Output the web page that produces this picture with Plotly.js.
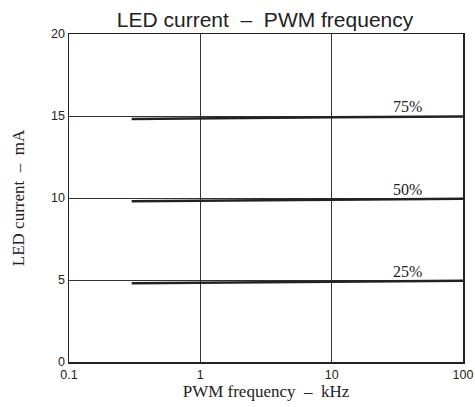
<!DOCTYPE html>
<html><head><meta charset="utf-8">
<script src="https://cdn.plot.ly/plotly-3.0.1.min.js"></script>
<style>html,body{margin:0;padding:0;background:#fff}#chart{width:475px;height:407px}</style>
</head><body><div id="chart"></div>
<script>
const freq = [0.3, 1, 10, 100];
const duty75 = [14.82, 14.87, 14.92, 14.97];
const duty50 = [9.8, 9.85, 9.9, 9.95];
const duty25 = [4.8, 4.85, 4.9, 4.95];
const seriesLabels = ['75%', '50%', '25%'];
const labelX = 38;
const xTickVals = [0.1, 1, 10, 100];
const xTickText = ['0.1', '1', '10', '100'];
const yTickVals = [0, 5, 10, 15, 20];

const series = [duty75, duty50, duty25];
const traces = series.map((s, i) => ({
  x: freq, y: s, type: 'scatter', mode: 'lines',
  line: {color: '#222', width: 2.5}, showlegend: false, hoverinfo: 'skip'
}));
const annotations = series.map((s, i) => ({
  x: Math.log10(labelX), y: s[s.length - 1] - 0.05, xref: 'x', yref: 'y',
  text: seriesLabels[i], showarrow: false, xanchor: 'center', yanchor: 'bottom',
  font: {family: 'Liberation Serif, Times New Roman, serif', size: 16, color: '#222'}
}));

Plotly.newPlot('chart', traces, {
  width: 475, height: 407,
  margin: {l: 69, r: 12, t: 34, b: 45},
  paper_bgcolor: '#fff', plot_bgcolor: '#fff',
  title: {text: 'LED current  –  PWM frequency', x: 0.558, xanchor: 'center',
    yref: 'container', y: 0.952, yanchor: 'middle',
    font: {family: 'Liberation Sans, Arial, sans-serif', size: 21, color: '#222'}},
  xaxis: {type: 'log', range: [-1, 2], tickvals: xTickVals, ticktext: xTickText,
    showgrid: true, gridcolor: '#333', gridwidth: 1, showline: true, linecolor: '#222', linewidth: 1.5,
    mirror: true, ticks: '', zeroline: false,
    tickfont: {family: 'Liberation Sans, Arial, sans-serif', size: 12.5, color: '#222'},
    title: {text: 'PWM frequency  –  kHz', standoff: 4,
      font: {family: 'Liberation Serif, Times New Roman, serif', size: 17, color: '#222'}}},
  yaxis: {range: [0, 20], tickvals: yTickVals,
    showgrid: true, gridcolor: '#333', gridwidth: 1, showline: true, linecolor: '#222', linewidth: 1.5,
    mirror: true, ticks: '', zeroline: false,
    tickfont: {family: 'Liberation Sans, Arial, sans-serif', size: 12.5, color: '#222'},
    title: {text: 'LED current  –  mA', standoff: 22,
      font: {family: 'Liberation Serif, Times New Roman, serif', size: 17, color: '#222'}}},
  annotations: annotations
}, {staticPlot: true, displayModeBar: false});
</script></body></html>
